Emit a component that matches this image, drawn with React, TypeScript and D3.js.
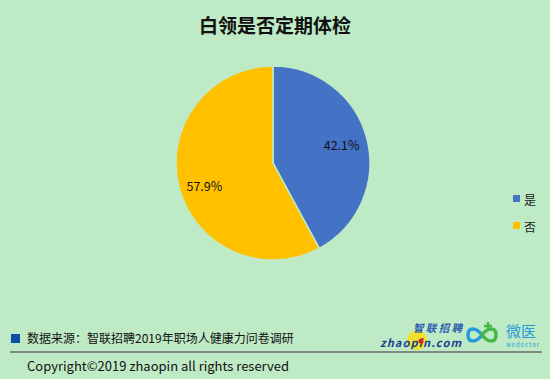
import React from "react";
import * as d3 from "d3";

const categories = ["是", "否"];
const values = [42.1, 57.9];
const colors = ["#4472c4", "#ffc000"];
const title = "白领是否定期体检";
const sourceText = "数据来源：智联招聘2019年职场人健康力问卷调研";
const copyright = "Copyright©2019 zhaopin all rights reserved";

const W = 550, H = 379;
const FONT = "'Noto Sans CJK SC', 'Noto Sans', sans-serif";

export default function App() {
  const cx = 273, cy = 163, r = 97;
  const pie = d3.pie<number>().sort(null).value((d) => d)(values);
  const arc = d3.arc<d3.PieArcDatum<number>>().innerRadius(0).outerRadius(r);
  const labelArc = d3.arc<d3.PieArcDatum<number>>().innerRadius(r * 0.73).outerRadius(r * 0.73);
  return (
    <svg width={W} height={H} style={{ position: "absolute", left: 0, top: 0 }} fontFamily={FONT}>
      <rect width={W} height={H} fill="#bfeac6" />
      <text x={275} y={33} textAnchor="middle" fontSize={19} fontWeight="bold" fill="#111">{title}</text>
      <g transform={`translate(${cx},${cy})`}>
        {pie.map((p, i) => (
          <path key={i} d={arc(p) || ""} fill={colors[i]} stroke="#bfeac6" strokeWidth={1.5} />
        ))}
        {pie.map((p, i) => {
          const [x, y] = labelArc.centroid(p);
          return (
            <text key={"l" + i} x={x} y={y + (i === 1 ? 5 : -1)} textAnchor="middle" dominantBaseline="central" fontSize={12.5} fill="#111">
              {values[i].toFixed(1)}%
            </text>
          );
        })}
      </g>
      {categories.map((c, i) => (
        <g key={c} transform={`translate(513,${199 + i * 27})`}>
          <rect x={0} y={-4} width={7} height={7} fill={colors[i]} />
          <text x={11} y={0} dominantBaseline="central" fontSize={12} fill="#222">{c}</text>
        </g>
      ))}
      <rect x={11} y={334} width={9} height={9} fill="#0d4ea6" />
      <text x={27} y={343} fontSize={12} fill="#111">{sourceText}</text>
      <line x1={10} x2={542} y1={352} y2={352} stroke="#7f8a80" strokeWidth={2} />
      <text x={27} y={371} fontSize={13} fill="#111">{copyright}</text>
      {/* zhaopin logo */}
      <circle cx={417} cy={340} r={10} fill="#f2e12a" />
      <text x={413} y={332} fontSize={10.5} fontWeight="bold" fontStyle="italic" fill="#2a5db0" textLength={49}>智联招聘</text>
      <text x={380} y={347} fontSize={11} fontWeight="bold" fontStyle="italic" fill="#1b3f8f" textLength={81}>zhaopin.com</text>
      <circle cx={421} cy={341} r={2.5} fill="#d8262b" />
      {/* weDoctor logo */}
      <path d="M482,335 C476,327 468,327 468,335 C468,343 476,343 482,335 Z" fill="none" stroke="#2a9bd8" strokeWidth={3.5} />
      <path d="M482,335 C488,327 496,327 496,335 C496,343 488,343 482,335 Z" fill="none" stroke="#47b749" strokeWidth={3.5} />
      <path d="M488,322 v8 M484,326 h8" stroke="#47b749" strokeWidth={2.5} />
      <text x={506} y={337} fontSize={15} fill="#2a9bd8">微医</text>
      <text x={506} y={347} fontSize={6} fill="#2a9bd8" textLength={33}>wedoctor</text>
    </svg>
  );
}
